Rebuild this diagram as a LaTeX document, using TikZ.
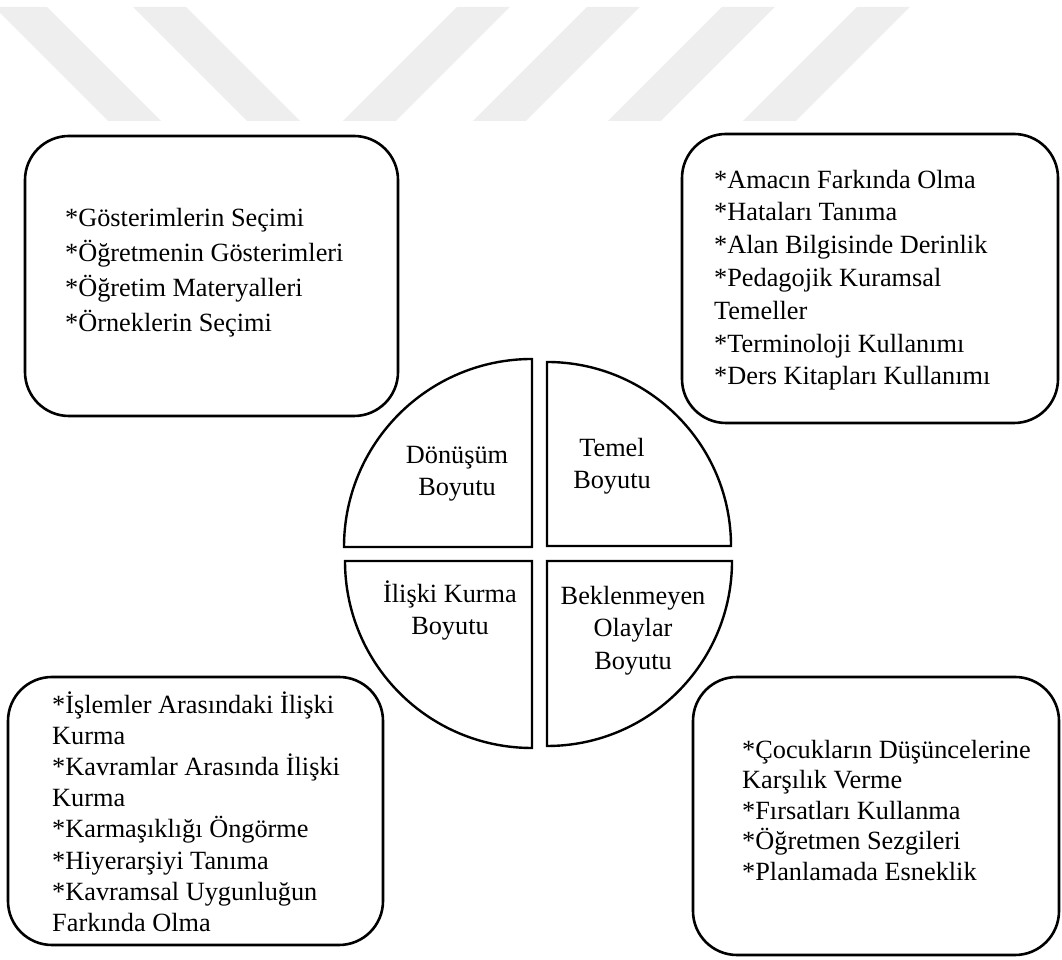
\documentclass[tikz,border=0pt]{standalone}
\usepackage{fontspec}
\setmainfont{Liberation Serif}
\definecolor{wm}{RGB}{238,238,238}
\newcommand{\firstline}{\rule{0pt}{24pt}}
\begin{document}
\begin{tikzpicture}[x=1pt,y=1pt,
  band/.style={fill=wm, draw=none},
  itembox/.style={draw, line width=2.6pt, rounded corners=44pt, rectangle, inner sep=0pt},
  quarter/.style={draw, line width=2.4pt, fill=white},
  itemtext/.style={anchor=north west, inner sep=0pt, align=left},
  dimtext/.style={anchor=north, inner sep=0pt, align=center}]
\useasboundingbox (0,0) rectangle (1062,960);

% faint striped band along the top edge
\fill[band] (-6,953) -- (47,953) -- (161,839) -- (108,839) -- cycle;
\fill[band] (133,953) -- (186,953) -- (300,839) -- (247,839) -- cycle;
\fill[band] (457,953) -- (510,953) -- (396,839) -- (343,839) -- cycle;
\fill[band] (587,953) -- (640,953) -- (526,839) -- (473,839) -- cycle;
\fill[band] (722,953) -- (775,953) -- (661,839) -- (608,839) -- cycle;
\fill[band] (857,953) -- (910,953) -- (796,839) -- (743,839) -- cycle;

% four quarter discs of the central circle
\draw[quarter] (532,413) -- (344,413) arc[start angle=180, end angle=90, radius=188] -- cycle;
\draw[quarter] (547,414) -- (547,598) arc[start angle=90, end angle=0, radius=184] -- cycle;
\draw[quarter] (532,399) -- (345,399) arc[start angle=180, end angle=270, radius=187] -- cycle;
\draw[quarter] (547,399) -- (732,399) arc[start angle=0, end angle=-90, radius=185] -- cycle;

% dimension names
\node[dimtext, font={\fontsize{26.3}{32}\selectfont}] (donusum) at (457,521)
  {\firstline D\"on\"u\c{s}\"um\\Boyutu};
\node[dimtext, font={\fontsize{26.3}{32}\selectfont}] (temel) at (612,528)
  {\firstline Temel\\Boyutu};
\node[dimtext, font={\fontsize{26.3}{32.5}\selectfont}] (iliski) at (450,382)
  {\firstline İlişki Kurma\\Boyutu};
\node[dimtext, font={\fontsize{26.3}{32.5}\selectfont}] (beklenmeyen) at (633,380)
  {\firstline Beklenmeyen\\Olaylar\\Boyutu};

% rounded frames
\node[itembox, minimum width=373pt, minimum height=280pt] (boxtl) at (211.5,684) {};
\node[itembox, minimum width=376pt, minimum height=289pt] (boxtr) at (870,681.5) {};
\node[itembox, minimum width=375pt, minimum height=268pt] (boxbl) at (195.5,149) {};
\node[itembox, minimum width=366pt, minimum height=278pt] (boxbr) at (876,144) {};

% lists of components
\node[itemtext, font={\fontsize{26.3}{35}\selectfont}] (listtl) at (65,758)
  {\firstline *Gösterimlerin Seçimi\\*Öğretmenin Gösterimleri\\*Öğretim Materyalleri\\*Örneklerin Seçimi};
\node[itemtext, font={\fontsize{26.3}{32.8}\selectfont}] (listtr) at (714,796)
  {\firstline *Amacın Farkında Olma\\*Hataları Tanıma\\*Alan Bilgisinde Derinlik\\*Pedagojik Kuramsal\\Temeller\\*Terminoloji Kullanımı\\*Ders Kitapları Kullanımı};
\node[itemtext, font={\fontsize{26.3}{31.2}\selectfont}] (listbl) at (52,271)
  {\firstline *İşlemler Arasındaki İlişki\\Kurma\\*Kavramlar Arasında İlişki\\Kurma\\*Karmaşıklığı Öngörme\\*Hiyerarşiyi Tanıma\\*Kavramsal Uygunluğun\\Farkında Olma};
\node[itemtext, font={\fontsize{26.3}{30.5}\selectfont}] (listbr) at (742,226)
  {\firstline *Çocukların Düşüncelerine\\Karşılık Verme\\*Fırsatları Kullanma\\*Öğretmen Sezgileri\\*Planlamada Esneklik};
\end{tikzpicture}
\end{document}
